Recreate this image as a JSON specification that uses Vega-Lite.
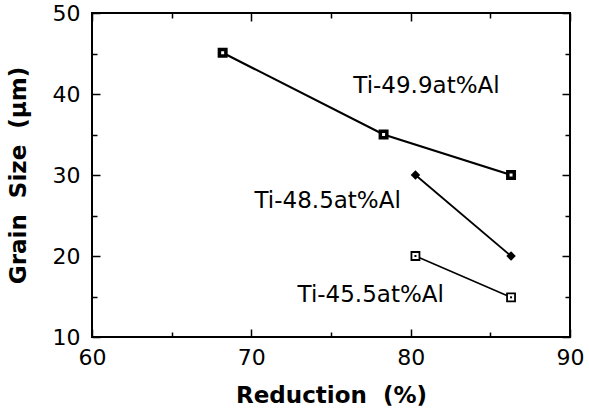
{
  "$schema": "https://vega.github.io/schema/vega-lite/v6.json",
  "width": 478,
  "height": 324,
  "autosize": {"type": "none"},
  "padding": {"left": 92, "top": 13, "right": 19, "bottom": 72},
  "background": "white",
  "config": {
    "view": {"stroke": "black", "strokeWidth": 2},
    "axis": {
      "domain": false,
      "grid": false,
      "ticks": true,
      "labelFont": "DejaVu Sans",
      "labelFontSize": 22,
      "labelColor": "black",
      "titleFont": "DejaVu Sans",
      "titleFontSize": 23,
      "titleFontWeight": "bold",
      "titleColor": "black",
      "tickColor": "black",
      "tickWidth": 1.5,
      "tickSize": {"expr": "datum.value % 10 === 0 ? -8 : -5"},
      "labelOverlap": false,
      "labelBound": false,
      "labelFlush": false
    }
  },
  "datasets": {
    "points": [
      {"series": "Ti-49.9at%Al", "reduction": 68.2, "grain": 45.1},
      {"series": "Ti-49.9at%Al", "reduction": 78.3, "grain": 35},
      {"series": "Ti-49.9at%Al", "reduction": 86.3, "grain": 30},
      {"series": "Ti-48.5at%Al", "reduction": 80.3, "grain": 30},
      {"series": "Ti-48.5at%Al", "reduction": 86.3, "grain": 20},
      {"series": "Ti-45.5at%Al", "reduction": 80.3, "grain": 20},
      {"series": "Ti-45.5at%Al", "reduction": 86.3, "grain": 14.9}
    ],
    "labels": [
      {"label": "Ti-49.9at%Al", "x": 76.4, "y": 40.1},
      {"label": "Ti-48.5at%Al", "x": 70.2, "y": 25.9},
      {"label": "Ti-45.5at%Al", "x": 72.9, "y": 14.3}
    ]
  },
  "layer": [
    {
      "data": {"name": "points"},
      "mark": {"type": "line", "color": "black"},
      "encoding": {
        "x": {
          "field": "reduction", "type": "quantitative",
          "scale": {"domain": [60, 90], "nice": false, "zero": false},
          "axis": {
            "values": [60, 65, 70, 75, 80, 85, 90],
            "labelExpr": "datum.value % 10 === 0 ? datum.label : ''",
            "title": "Reduction\u00a0\u00a0(%)",
            "labelPadding": 18,
            "titlePadding": 13
          }
        },
        "y": {
          "field": "grain", "type": "quantitative",
          "scale": {"domain": [10, 50], "nice": false, "zero": false},
          "axis": {
            "values": [10, 15, 20, 25, 30, 35, 40, 45, 50],
            "labelExpr": "datum.value % 10 === 0 ? datum.label : ''",
            "title": "Grain\u00a0\u00a0Size\u00a0\u00a0(\u03bcm)",
            "labelPadding": 20,
            "titlePadding": 22
          }
        },
        "detail": {"field": "series"},
        "strokeWidth": {
          "field": "series", "type": "nominal",
          "scale": {"domain": ["Ti-49.9at%Al", "Ti-48.5at%Al", "Ti-45.5at%Al"], "range": [2.2, 1.5, 1.8]},
          "legend": null
        }
      }
    },
    {
      "data": {"name": "points"},
      "transform": [{"filter": "datum.series === 'Ti-49.9at%Al'"}],
      "mark": {"type": "point", "shape": "square", "filled": false, "fill": "white", "stroke": "black", "strokeWidth": 3.5, "size": 42, "opacity": 1},
      "encoding": {
        "x": {
          "field": "reduction", "type": "quantitative",
          "scale": {"domain": [60, 90], "nice": false, "zero": false},
          "axis": {
            "orient": "top",
            "values": [60, 65, 70, 75, 80, 85, 90],
            "labels": false,
            "title": null
          }
        },
        "y": {
          "field": "grain", "type": "quantitative",
          "scale": {"domain": [10, 50], "nice": false, "zero": false},
          "axis": {
            "orient": "right",
            "values": [10, 15, 20, 25, 30, 35, 40, 45, 50],
            "labels": false,
            "title": null
          }
        }
      }
    },
    {
      "data": {"name": "points"},
      "transform": [{"filter": "datum.series === 'Ti-48.5at%Al'"}],
      "mark": {"type": "point", "shape": "diamond", "filled": true, "color": "black", "size": 90, "opacity": 1},
      "encoding": {
        "x": {"field": "reduction", "type": "quantitative", "scale": {"domain": [60, 90], "nice": false, "zero": false}, "axis": null},
        "y": {"field": "grain", "type": "quantitative", "scale": {"domain": [10, 50], "nice": false, "zero": false}, "axis": null}
      }
    },
    {
      "data": {"name": "points"},
      "transform": [{"filter": "datum.series === 'Ti-45.5at%Al'"}],
      "mark": {"type": "point", "shape": "square", "filled": false, "fill": "white", "stroke": "black", "strokeWidth": 1.8, "size": 64, "opacity": 1},
      "encoding": {
        "x": {"field": "reduction", "type": "quantitative", "scale": {"domain": [60, 90], "nice": false, "zero": false}, "axis": null},
        "y": {"field": "grain", "type": "quantitative", "scale": {"domain": [10, 50], "nice": false, "zero": false}, "axis": null}
      }
    },
    {
      "data": {"name": "points"},
      "transform": [{"filter": "datum.series === 'Ti-45.5at%Al'"}],
      "mark": {"type": "point", "shape": "square", "filled": true, "color": "black", "size": 4, "opacity": 1},
      "encoding": {
        "x": {"field": "reduction", "type": "quantitative", "scale": {"domain": [60, 90], "nice": false, "zero": false}, "axis": null},
        "y": {"field": "grain", "type": "quantitative", "scale": {"domain": [10, 50], "nice": false, "zero": false}, "axis": null}
      }
    },
    {
      "data": {"name": "labels"},
      "mark": {"type": "text", "align": "left", "baseline": "alphabetic", "font": "DejaVu Sans", "fontSize": 23, "color": "black"},
      "encoding": {
        "x": {"field": "x", "type": "quantitative", "scale": {"domain": [60, 90], "nice": false, "zero": false}, "axis": null},
        "y": {"field": "y", "type": "quantitative", "scale": {"domain": [10, 50], "nice": false, "zero": false}, "axis": null},
        "text": {"field": "label"}
      }
    }
  ],
  "resolve": {"axis": {"x": "independent", "y": "independent"}}
}
